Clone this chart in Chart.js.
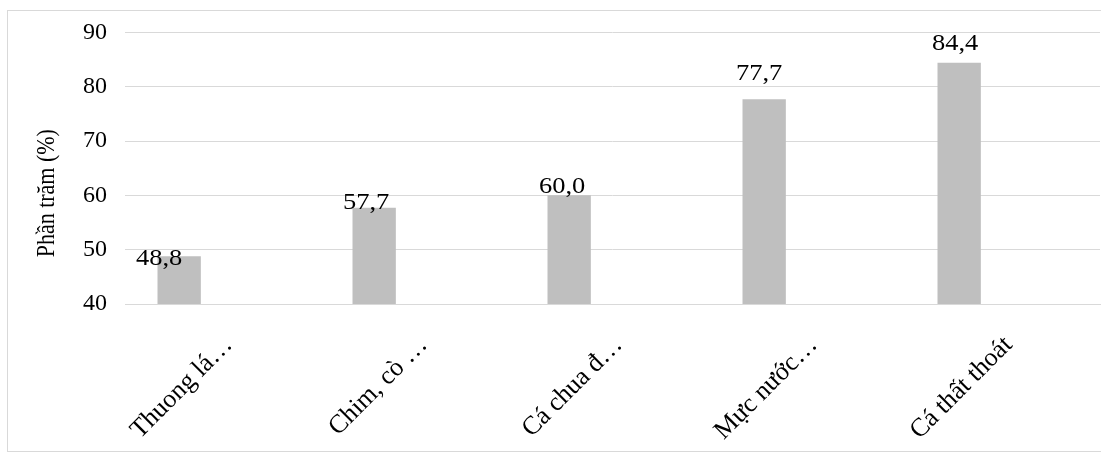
<!DOCTYPE html>
<html lang="vi">
<head>
<meta charset="utf-8">
<title>Phần trăm (%)</title>
<script src="https://cdn.jsdelivr.net/npm/chart.js@4/dist/chart.umd.min.js"></script>
<style>
  html, body { margin: 0; padding: 0; background: #ffffff; }
  #wrap { position: relative; width: 1101px; height: 453px; }
</style>
</head>
<body>
<div id="wrap"><canvas id="chart"></canvas></div>
<script>
// Category labels (as shown on the axis, shortened)
const categories = ['Thuong lá…', 'Chim, cò …', 'Cá chua đ…', 'Mực nước…', 'Cá thất thoát'];
// Percentages per category
const percentValues = [48.8, 57.7, 60.0, 77.7, 84.4];
// Two further series of the workbook hold no values
const emptySeriesA = [null, null, null, null, null];
const emptySeriesB = [null, null, null, null, null];
// Y axis ticks
const yTicks = [40, 50, 60, 70, 80, 90];
const yTitle = 'Phần trăm (%)';

// Small per-label nudges (px) for the value labels: [dx, dy from bar top]
const labelNudge = [[-20, 9], [-8, 1], [-7, -2], [-5, -19], [-4, -13]];

const SERIF = '"Liberation Serif", "Times New Roman", serif';
const GRID = '#d9d9d9';
const WIDEN = 1.15; // slightly wide lettering for the free-standing texts

// Outer frame of the chart object
const frame = {
  id: 'frame',
  beforeDraw(chart) {
    const ctx = chart.ctx;
    ctx.save();
    ctx.strokeStyle = GRID;
    ctx.lineWidth = 1;
    ctx.strokeRect(7.5, 10.5, chart.width + 10, 441);
    ctx.restore();
  }
};

// Rotated y axis title, sitting a little below the middle of the plot
const axisTitle = {
  id: 'axisTitle',
  afterDraw(chart) {
    const ctx = chart.ctx;
    const area = chart.chartArea;
    ctx.save();
    ctx.font = '22px ' + SERIF;
    ctx.fillStyle = '#000000';
    ctx.textAlign = 'center';
    ctx.textBaseline = 'middle';
    ctx.translate(47, (area.top + area.bottom) / 2 + 25);
    ctx.rotate(-Math.PI / 2);
    ctx.scale(1, WIDEN);
    ctx.fillText(yTitle, 0, 0);
    ctx.restore();
  }
};

// Value labels above the bars
const valueLabels = {
  id: 'valueLabels',
  afterDatasetsDraw(chart) {
    const ctx = chart.ctx;
    const meta = chart.getDatasetMeta(0);
    ctx.save();
    ctx.font = '23px ' + SERIF;
    ctx.fillStyle = '#000000';
    ctx.textAlign = 'center';
    ctx.textBaseline = 'alphabetic';
    meta.data.forEach((bar, i) => {
      const v = percentValues[i];
      const txt = v.toFixed(1).replace('.', ',');
      const n = labelNudge[i];
      ctx.save();
      ctx.translate(bar.x + n[0], bar.y + n[1]);
      ctx.scale(WIDEN, 1);
      ctx.fillText(txt, 0, 0);
      ctx.restore();
    });
    ctx.restore();
  }
};

new Chart(document.getElementById('chart'), {
  type: 'bar',
  data: {
    labels: categories,
    datasets: [
      { data: percentValues, backgroundColor: '#bfbfbf' },
      { data: emptySeriesA, backgroundColor: '#bfbfbf' },
      { data: emptySeriesB, backgroundColor: '#bfbfbf' }
    ]
  },
  options: {
    responsive: true,
    maintainAspectRatio: false,
    animation: false,
    events: [],
    categoryPercentage: 3 / 4.5,
    barPercentage: 1,
    layout: { padding: { top: 30, right: 1, left: 0, bottom: 0 } },
    plugins: {
      legend: { display: false },
      tooltip: { enabled: false },
      title: { display: false }
    },
    scales: {
      x: {
        grid: { display: false, drawTicks: false },
        border: { display: true, color: GRID, width: 1 },
        ticks: {
          autoSkip: false,
          minRotation: 45,
          maxRotation: 45,
          padding: 26,
          labelOffset: 6,
          color: '#000000',
          font: { family: SERIF, size: 26 }
        },
        afterFit(scale) { scale.height = 149; }
      },
      y: {
        min: 40,
        max: 90,
        afterBuildTicks(scale) { scale.ticks = yTicks.map(v => ({ value: v })); },
        grid: { color: GRID, lineWidth: 1, drawTicks: false },
        border: { display: false },
        ticks: {
          padding: 18,
          color: '#000000',
          font: { family: SERIF, size: 24 }
        },
        afterFit(scale) { scale.width = 125; }
      }
    }
  },
  plugins: [frame, axisTitle, valueLabels]
});
</script>
</body>
</html>
